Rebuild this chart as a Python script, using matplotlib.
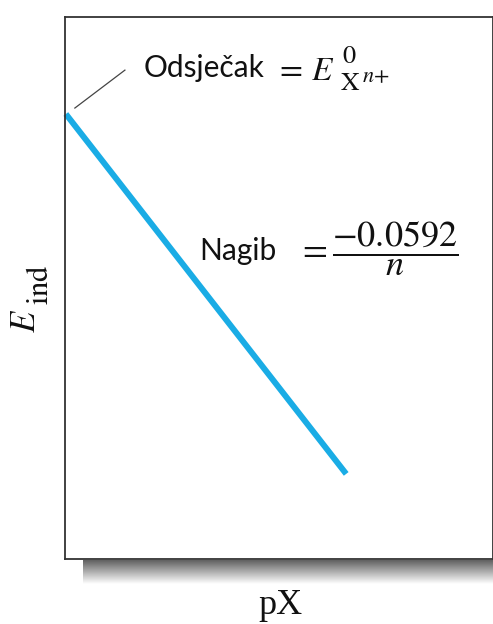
import numpy as np
import matplotlib
matplotlib.use("Agg")
import matplotlib.pyplot as plt

# data (axes-fraction units)
px = [0.002, 0.657]
e_ind = [0.821, 0.157]
xlabel = "pX"
intercept_label = "Odsječak"
slope_label = "Nagib"

plt.rcParams['mathtext.fontset'] = 'stix'
W, H = 493, 624
fig = plt.figure(figsize=(W/100, H/100), dpi=100)

def fx(p): return p / W
def fy(p): return 1 - p / H

# shadow gradient under axes
sh = fig.add_axes([fx(83), fy(584), 1 - fx(83), (584 - 560) / H])
grad = np.linspace(0.38, 1.0, 64).reshape(-1, 1)
sh.imshow(grad, cmap='gray', vmin=0, vmax=1, aspect='auto', extent=[0, 1, 1, 0])
sh.axis('off')

ax = fig.add_axes([fx(65), fy(559), 1.0 - fx(65), (559 - 17) / H])
ax.set_xlim(0, 1)
ax.set_ylim(0, 1)
ax.set_xticks([]); ax.set_yticks([])
for s in ax.spines.values():
    s.set_color('#333333'); s.set_linewidth(1.3)

ax.plot(px, e_ind, color='#1AACE5', lw=4.3, solid_capstyle='butt', clip_on=False)

# leader line
ax.plot([0.023, 0.140], [0.832, 0.902], color='#444444', lw=0.9)

txtc = '#111111'
# intercept annotation
fig.text(fx(144), fy(77), intercept_label, fontsize=21.5, family='Lato',
         va='baseline', ha='left', color=txtc)
fig.text(fx(275), fy(80), r"$=\,E$", fontsize=24,
         va='baseline', ha='left', color=txtc)
fig.text(fx(342), fy(63), r"$0$", fontsize=19, va='baseline', ha='left', color=txtc)
fig.text(fx(340), fy(90), r"$\mathrm{X}$", fontsize=18.5, va='baseline', ha='left', color=txtc)
fig.text(fx(362), fy(82), r"$n{+}$", fontsize=16, va='baseline', ha='left', color=txtc)

# slope annotation
fig.text(fx(199), fy(260), slope_label, fontsize=21.5, family='Lato',
         va='baseline', ha='left', color=txtc)
fig.text(fx(297), fy(249), r"$=\dfrac{-0.0592}{n}$", fontsize=26,
         va='center', ha='left', color=txtc)

# axis labels
fig.text(fx(258), fy(614), xlabel, fontsize=26, family='Liberation Serif',
         ha='left', va='baseline', color=txtc)
fig.text(fx(35), fy(333), r"$E$", fontsize=25, rotation=90, rotation_mode='anchor',
         ha='left', va='baseline', color=txtc)
fig.text(fx(48), fy(305), r"$\mathrm{ind}$", fontsize=22, rotation=90, rotation_mode='anchor',
         ha='left', va='baseline', color=txtc)

fig.savefig("out.png", dpi=100)
